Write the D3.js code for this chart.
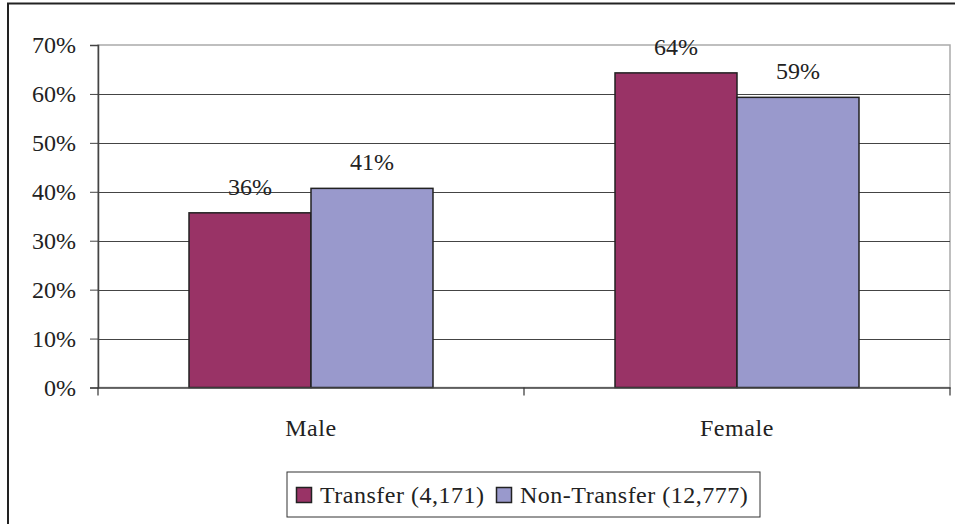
<!DOCTYPE html>
<meta charset="utf-8">
<head>
  <script src="https://d3js.org/d3.v7.min.js"></script>
  <style>
    body { margin: 0; background: #fff; }
    svg { display: block; font-family: "Liberation Serif", "Times New Roman", serif; }
  </style>
</head>
<body>
<svg></svg>
<script>
  // data
  var categories = ["Male", "Female"];
  var seriesNames = ["Transfer (4,171)", "Non-Transfer (12,777)"];
  var transfer = [35.7, 64.3];
  var nonTransfer = [40.7, 59.3];
  var pctLabels = [["36%", "41%"], ["64%", "59%"]];
  var yTicks = [0, 10, 20, 30, 40, 50, 60, 70];
  var colors = ["#993366", "#9999cc"];

  var width = 955, height = 524;
  var plotLeft = 98, plotRight = 950, plotTop = 45, plotBottom = 387.5;
  var fontSize = 24;

  var svg = d3.select("svg").attr("width", width).attr("height", height);

  // outer frame (only top + left visible)
  svg.append("rect")
    .attr("x", 8).attr("y", 3.5)
    .attr("width", 960).attr("height", 540)
    .attr("fill", "none").attr("stroke", "#222").attr("stroke-width", 2);

  var y = d3.scaleLinear().domain([0, 70]).range([plotBottom, plotTop]);
  var x0 = d3.scaleBand().domain(categories).range([plotLeft, plotRight]).paddingInner(0).paddingOuter(0);
  var x1 = d3.scaleBand().domain(seriesNames).range([0, x0.bandwidth()]).paddingInner(0).paddingOuter(0.746);

  // plot border (light)
  svg.append("rect")
    .attr("x", plotLeft).attr("y", plotTop)
    .attr("width", plotRight - plotLeft).attr("height", plotBottom - plotTop)
    .attr("fill", "none").attr("stroke", "#aaa").attr("stroke-width", 1.5);

  // gridlines
  svg.append("g").selectAll("line")
    .data(yTicks.filter(function (d) { return d > 0 && d < 70; }))
    .enter().append("line")
    .attr("x1", plotLeft).attr("x2", plotRight)
    .attr("y1", function (d) { return Math.round(y(d)) + 0.5; })
    .attr("y2", function (d) { return Math.round(y(d)) + 0.5; })
    .attr("stroke", "#444").attr("stroke-width", 1);

  // bars
  var groups = svg.append("g").selectAll("g")
    .data(categories)
    .enter().append("g")
    .attr("transform", function (d) { return "translate(" + x0(d) + ",0)"; });

  function rows(d, i) {
    return [transfer[i], nonTransfer[i]].map(function (v, j) { return { v: v, s: j, c: i }; });
  }

  groups.selectAll("rect")
    .data(rows)
    .enter().append("rect")
    .attr("x", function (d) { return x1(seriesNames[d.s]); })
    .attr("width", x1.bandwidth())
    .attr("y", function (d) { return y(d.v); })
    .attr("height", function (d) { return plotBottom - y(d.v); })
    .attr("fill", function (d) { return colors[d.s]; })
    .attr("stroke", "#222").attr("stroke-width", 1.5);

  groups.selectAll("text")
    .data(rows)
    .enter().append("text")
    .attr("x", function (d) { return x1(seriesNames[d.s]) + x1.bandwidth() / 2; })
    .attr("y", function (d) { return y(d.v) - 18; })
    .attr("text-anchor", "middle")
    .attr("font-size", fontSize)
    .attr("fill", "#222")
    .text(function (d) { return pctLabels[d.c][d.s]; });

  // y axis
  var yAxis = svg.append("g")
    .attr("transform", "translate(" + plotLeft + ",0)")
    .call(d3.axisLeft(y).tickValues(yTicks).tickSize(8).tickPadding(14)
      .tickFormat(function (d) { return d + "%"; }));
  yAxis.select(".domain").attr("stroke", "#444").attr("stroke-width", 1.5);
  yAxis.selectAll(".tick line").attr("stroke", "#444");
  yAxis.selectAll("text").attr("font-size", fontSize).attr("fill", "#222")
    .attr("font-family", "Liberation Serif, Times New Roman, serif");

  // x axis
  var xAxis = svg.append("g")
    .attr("transform", "translate(0," + plotBottom + ")")
    .call(d3.axisBottom(x0).tickSize(0).tickPadding(31));
  xAxis.select(".domain").attr("stroke", "#444").attr("stroke-width", 1.5);
  xAxis.selectAll("text").attr("font-size", fontSize).attr("fill", "#222")
    .attr("font-family", "Liberation Serif, Times New Roman, serif")
    .attr("letter-spacing", 0.6);
  // category boundary ticks
  var bounds = [plotLeft, plotLeft + x0.bandwidth(), plotRight];
  xAxis.selectAll(".bound").data(bounds).enter().append("line")
    .attr("class", "bound")
    .attr("x1", function (d) { return d; }).attr("x2", function (d) { return d; })
    .attr("y1", 0).attr("y2", 8)
    .attr("stroke", "#333").attr("stroke-width", 1.2);

  // legend
  var legend = svg.append("g").attr("transform", "translate(287,472)");
  legend.append("rect")
    .attr("width", 473).attr("height", 45)
    .attr("fill", "#fff").attr("stroke", "#333").attr("stroke-width", 1);
  var items = legend.selectAll(".item").data(seriesNames).enter().append("g")
    .attr("class", "item")
    .attr("transform", function (d, i) { return "translate(" + (i === 0 ? 9 : 209) + ",0)"; });
  items.append("rect")
    .attr("x", 0.5).attr("y", 15.5).attr("width", 15).attr("height", 15)
    .attr("fill", function (d, i) { return colors[i]; })
    .attr("stroke", "#222").attr("stroke-width", 1.5);
  items.append("text")
    .attr("x", 24).attr("y", 31)
    .attr("font-size", fontSize).attr("fill", "#222")
    .attr("letter-spacing", 0.5)
    .text(function (d) { return d; });
</script>
</body>
</html>
